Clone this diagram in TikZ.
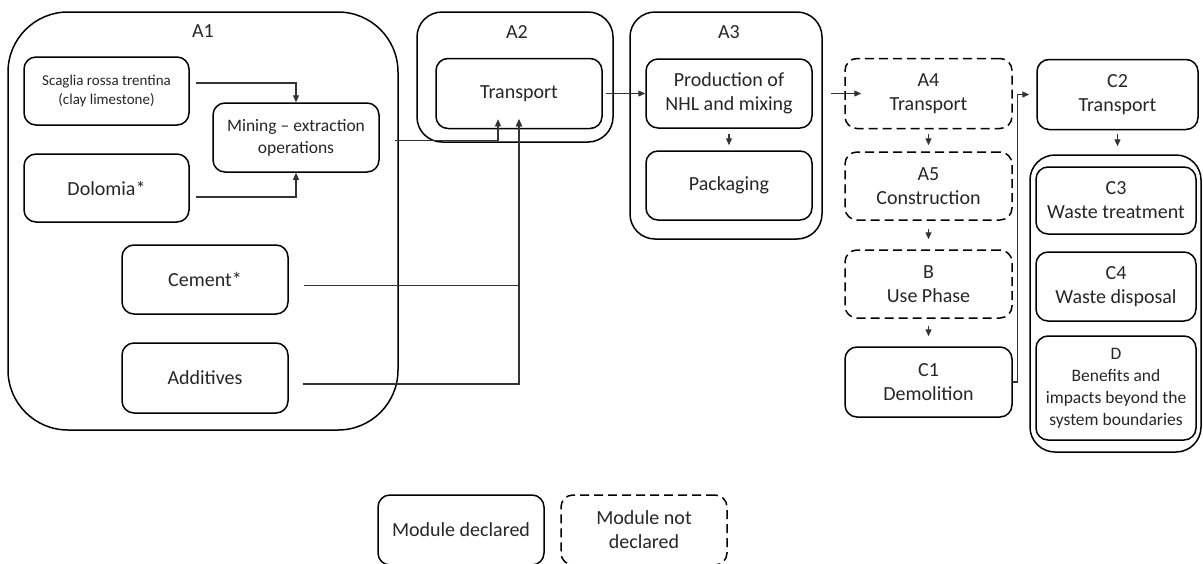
\documentclass[tikz,border=0pt]{standalone}
\usepackage{fontspec}
\setmainfont{Carlito}
\usetikzlibrary{arrows.meta}

\begin{document}
\begin{tikzpicture}[x=1pt, y=-1pt,
        box/.style={draw, rounded corners=12pt, line width=1.5pt, align=center, inner sep=2pt,
            minimum width=166pt, minimum height=69pt, text=black!85, font=\fontsize{20}{24}\selectfont},
        dbox/.style={box, dash pattern=on 9pt off 5pt},
        grp/.style={draw, rounded corners=25pt, line width=1.5pt, inner sep=0pt},
        lbl/.style={text=black!85, font=\fontsize{20}{24}\selectfont},
        arr/.style={-{Triangle[length=7pt,width=6pt]}, line width=1.1pt, draw=black!80}]
        \useasboundingbox (0,0) rectangle (1203,563);
        \clip (0,0) rectangle (1203,563);

        % Groups
        \node[grp, rounded corners=60pt, minimum width=390pt, minimum height=418pt] (a1) at (203,221) {};
        \node[lbl] (a1lbl) at (203,31) {A1};
        \node[grp, minimum width=196pt, minimum height=130pt] (a2) at (515,77) {};
        \node[lbl] (a2lbl) at (517,32) {A2};
        \node[grp, minimum width=192pt, minimum height=227pt] (a3) at (726,125.5) {};
        \node[lbl] (a3lbl) at (729,32) {A3};
        \node[grp, minimum width=171pt, minimum height=297pt] (cgrp) at (1115.5,303.5) {};

        % Nodes
        \node[box, minimum width=165pt, minimum height=68pt, font=\fontsize{15}{19}\selectfont] (scaglia) at (106.5,91) {Scaglia rossa trentina\\(clay limestone)};
        \node[box, font=\fontsize{17.5}{22}\selectfont] (mining) at (296,137.5) {Mining – extraction\\operations};
        \node[box, minimum width=165pt, minimum height=68pt] (dolomia) at (106.5,188) {Dolomia*};
        \node[box] (cement) at (205,279.5) {Cement*};
        \node[box, minimum height=70pt] (additives) at (205,378) {Additives};
        \node[box, minimum height=70pt] (transport) at (519,93.5) {Transport};
        \node[box] (production) at (729,93.5) {Production of\\NHL and mixing};
        \node[box] (packaging) at (729,185.5) {Packaging};
        \node[dbox, minimum width=167pt, minimum height=70pt] (a4) at (928.5,93.5) {A4\\Transport};
        \node[dbox, minimum width=167pt, minimum height=68pt] (a5) at (928.5,186) {A5\\Construction};
        \node[dbox, minimum width=167pt, minimum height=68pt] (usephase) at (928.5,284) {B\\Use Phase};
        \node[box, minimum width=167pt, minimum height=70pt] (c1) at (928.5,382) {C1\\Demolition};
        \node[box, minimum width=161pt, minimum height=70pt] (c2) at (1117.5,94.5) {C2\\Transport};
        \node[box, minimum width=160pt, minimum height=67pt] (c3) at (1116,200.5) {C3\\Waste treatment};
        \node[box, minimum width=160pt] (c4) at (1116,286.5) {C4\\Waste disposal};
        \node[box, minimum width=160pt, minimum height=104pt, font=\fontsize{17.5}{22}\selectfont] (dmod) at (1116,388) {D\\Benefits and\\impacts beyond the\\system boundaries};

        % Legend
        \node[box, minimum height=70pt] (decl) at (461,530) {Module declared};
        \node[dbox, minimum height=70pt] (notdecl) at (644,530) {Module not\\declared};

        % Raw materials to extraction
        \draw[arr] ([xshift=6pt,yshift=8pt]scaglia.east) -| (mining.north);
        \draw[arr] ([xshift=6pt,yshift=-9pt]dolomia.east) -| (mining.south);

        % Inputs to transport
        \draw[arr] ([xshift=15pt,yshift=-3pt]mining.east) -| ([xshift=-21pt,yshift=10pt]transport.south);
        \draw[arr] ([xshift=15pt,yshift=-6pt]cement.east) -| ([yshift=10pt]transport.south);
        \draw[arr] ([xshift=14pt,yshift=-6pt]additives.east) -| ([yshift=10pt]transport.south);

        % Production chain
        \draw[arr] ([xshift=3pt]transport.east) -- (production.west);
        \draw[arr, shorten <=5pt, shorten >=5pt] (production) -- (packaging);
        \draw[arr] ([xshift=18pt]production.east) -- ([xshift=17pt]a4.west);
        \draw[arr, shorten <=5pt, shorten >=6pt] (a4) -- (a5);
        \draw[arr, shorten <=8pt, shorten >=10pt] (a5) -- (usephase);
        \draw[arr, shorten <=7pt, shorten >=10pt] (usephase) -- (c1);

        % End of life
        \draw[arr] (c1.east) -- ++(5,0) |- ([xshift=-7pt]c2.west);
        \draw[arr, shorten <=4pt, shorten >=8pt] (c2) -- (c2 |- cgrp.north);
\end{tikzpicture}
\end{document}
